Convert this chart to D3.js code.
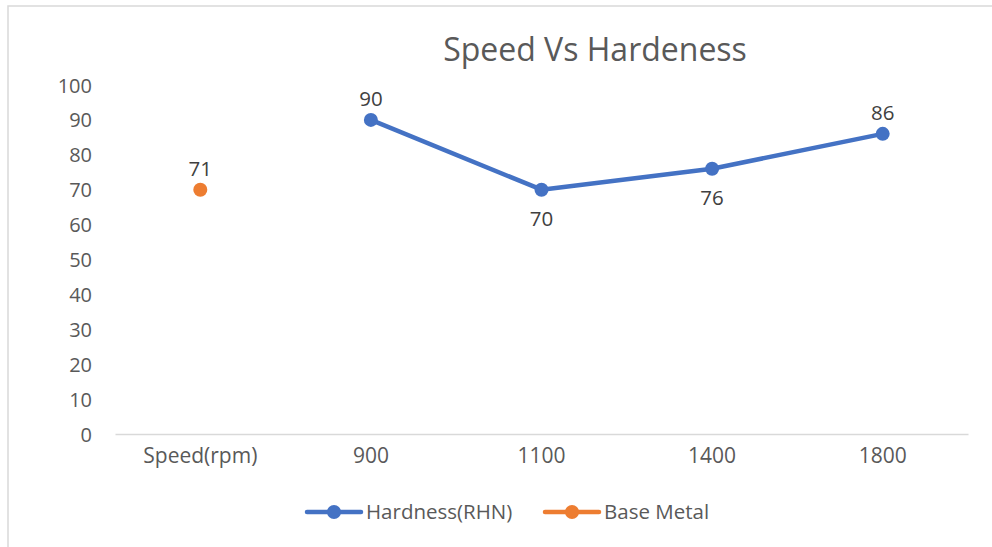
<!DOCTYPE html>
<meta charset="utf-8">
<style>
body { margin: 0; background: #fff; }
text { font-family: "Open Sans", sans-serif; fill: #595959; }
.tick text { font-size: 20px; }
.label { font-size: 20.5px; fill: #404040; text-anchor: middle; }
.title { font-size: 32px; text-anchor: middle; }
.legend text { font-size: 20.5px; }
</style>
<body>
<script src="https://cdn.jsdelivr.net/npm/d3@7"></script>
<script>

var categories = ["Speed(rpm)", "900", "1100", "1400", "1800"];
var hardness = [null, 90, 70, 76, 86];
var hardnessLabels = ["", "90", "70", "76", "86"];
var labelPos = [0, -1, 1, 1, -1];  // -1 above, 1 below
var baseMetal = [70, null, null, null, null];
var baseMetalLabels = ["71", "", "", "", ""];
var yTicks = [0, 10, 20, 30, 40, 50, 60, 70, 80, 90, 100];

var width = 992, height = 547;
var blue = "#4472c4", orange = "#ed7d31";

var svg = d3.select("body").append("svg")
    .attr("width", width)
    .attr("height", height);

// chart frame
svg.append("rect")
    .attr("x", 8)
    .attr("y", 6)
    .attr("width", 1200)
    .attr("height", 600)
    .attr("fill", "none")
    .attr("stroke", "#d9d9d9")
    .attr("stroke-width", 1.5);

var x = d3.scaleBand()
    .domain(categories)
    .range([115, 968]);

var y = d3.scaleLinear()
    .domain([0, 100])
    .range([434, 85]);

svg.append("text")
    .attr("class", "title")
    .attr("x", 595)
    .attr("y", 61)
    .text("Speed Vs Hardeness");

var yAxis = svg.append("g")
    .attr("transform", "translate(100,0)")
    .call(d3.axisLeft(y).tickValues(yTicks).tickSize(0).tickPadding(8));
yAxis.select(".domain").remove();
yAxis.selectAll("text").attr("dy", "0.35em");

var xAxis = svg.append("g")
    .attr("transform", "translate(0,434)")
    .call(d3.axisBottom(x).tickSize(0).tickPadding(14));
xAxis.select(".domain").attr("stroke", "#d9d9d9").attr("stroke-width", 1.5);
xAxis.selectAll("text").style("font-size", "21px");

function cx(i) { return x(categories[i]) + x.bandwidth() / 2; }

var line = d3.line()
    .defined(function(d) { return d != null; })
    .x(function(d, i) { return cx(i); })
    .y(function(d) { return y(d); });

svg.append("path")
    .datum(hardness)
    .attr("fill", "none")
    .attr("stroke", blue)
    .attr("stroke-width", 4.5)
    .attr("stroke-linejoin", "round")
    .attr("d", line);

function drawPoints(vals, labels, color, pos) {
  vals.forEach(function(v, i) {
    if (v == null) return;
    svg.append("circle")
        .attr("cx", cx(i))
        .attr("cy", y(v))
        .attr("r", 7)
        .attr("fill", color);
    var below = pos && pos[i] > 0;
    svg.append("text")
        .attr("class", "label")
        .attr("x", cx(i))
        .attr("y", y(v) + (below ? 36 : -14))
        .text(labels[i]);
  });
}

drawPoints(hardness, hardnessLabels, blue, labelPos);
drawPoints(baseMetal, baseMetalLabels, orange, null);

// legend
var legendItems = [
  { name: "Hardness(RHN)", color: blue, x: 307 },
  { name: "Base Metal", color: orange, x: 545 }
];

var legend = svg.append("g").attr("class", "legend")
  .selectAll("g")
    .data(legendItems)
  .enter().append("g")
    .attr("transform", function(d) { return "translate(" + d.x + ",512)"; });

legend.append("line")
    .attr("x1", 0).attr("x2", 54)
    .attr("stroke", function(d) { return d.color; })
    .attr("stroke-width", 4.5)
    .attr("stroke-linecap", "round");

legend.append("circle")
    .attr("cx", 27)
    .attr("r", 7)
    .attr("fill", function(d) { return d.color; });

legend.append("text")
    .attr("x", 59)
    .attr("dy", "0.35em")
    .text(function(d) { return d.name; });

</script>
</body>
